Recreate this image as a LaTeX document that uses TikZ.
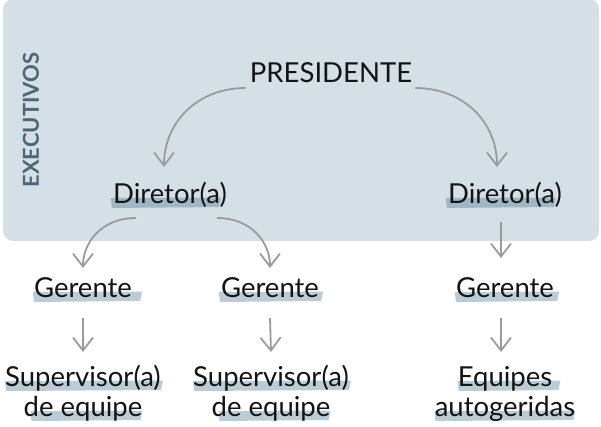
\documentclass[tikz,border=0pt]{standalone}
\usepackage{fontspec}
\setmainfont{Lato}
\usetikzlibrary{arrows.meta}
\pgfdeclarelayer{bg}
\pgfsetlayers{bg,main}
\definecolor{boxc}{HTML}{D4DFE6}
\definecolor{execc}{HTML}{4D6777}
\definecolor{arrc}{HTML}{9B9B9B}
\definecolor{hlin}{HTML}{A0B6C5}
\definecolor{hlout}{HTML}{BCCCD7}
\definecolor{txt}{HTML}{141414}
\tikzset{
  lbl/.style={anchor=base, inner sep=0pt, font=\fontsize{27.5}{31}\selectfont, text=txt},
  arr/.style={draw=arrc, line width=1.8pt, -{Straight Barb[length=13pt,width=20pt,line width=1.8pt]}},
}
\newcommand{\hlband}[4]{%
  \fill[#2] ([shift={({-(#3)},-5)}]#1.base west) -- ([shift={(#4,-5.5)}]#1.base east)
    -- ([shift={({#4-2},4)}]#1.base east) -- ([shift={({1-(#3)},5)}]#1.base west) -- cycle;}
\begin{document}
\begin{tikzpicture}[x=1pt,y=-1pt]
\useasboundingbox (0,0) rectangle (601,426);
\begin{pgfonlayer}{bg}
  \fill[boxc, rounded corners=10pt] (3,-1) rectangle (599,241);
\end{pgfonlayer}
\node[font=\fontsize{22}{25}\selectfont\bfseries, text=execc, rotate=90, inner sep=0pt] (exec) at (31,120) {EXECUTIVOS};
\node[lbl] (pres) at (331,82) {PRESIDENTE};
\node[lbl] (dirL) at (170,203) {Diretor(a)};
\node[lbl] (dirR) at (505,203) {Diretor(a)};
\node[lbl] (ger1) at (83,297) {Gerente};
\node[lbl] (ger2) at (270,297) {Gerente};
\node[lbl] (ger3) at (505,297) {Gerente};
\node[lbl] (sup1a) at (83,386) {Supervisor(a)};
\node[lbl] (sup1b) at (83,416) {de equipe};
\node[lbl] (sup2a) at (271,386) {Supervisor(a)};
\node[lbl] (sup2b) at (271,416) {de equipe};
\node[lbl] (eqa) at (505,386) {Equipes};
\node[lbl] (eqb) at (505,416) {autogeridas};
\begin{pgfonlayer}{bg}
  \hlband{dirL}{hlin}{2}{-6}
  \hlband{dirR}{hlin}{2}{-6}
  \hlband{ger1}{hlout}{1}{10}
  \hlband{ger2}{hlout}{2}{4}
  \hlband{ger3}{hlout}{1}{5}
  \hlband{sup1a}{hlout}{0}{2}
  \hlband{sup1b}{hlout}{-7}{0}
  \hlband{sup2a}{hlout}{0}{2}
  \hlband{sup2b}{hlout}{-7}{0}
  \hlband{eqa}{hlout}{0}{8}
  \hlband{eqb}{hlout}{0}{0}
\end{pgfonlayer}
\draw[arr] ([shift={(-4,6)}]pres.base west) .. controls +(-48,0) and +(0,-45) .. ([shift={(-6,-36)}]dirL.base);
\draw[arr] ([shift={(3,6)}]pres.base east) .. controls +(48,0) and +(0,-45) .. ([shift={(-8,-36)}]dirR.base);
\draw[arr] ([shift={(-34,15)}]dirL.base) .. controls +(-35,0) and +(0,-25) .. ([shift={(0,-29)}]ger1.base);
\draw[arr] ([shift={(47,15)}]dirL.base) .. controls +(35,0) and +(0,-25) .. ([shift={(0,-29)}]ger2.base);
\draw[arr] ([shift={(-4,19)}]dirR.base) -- ([shift={(-4,-39)}]ger3.base);
\draw[arr] ([shift={(0,21)}]ger1.base) -- ([shift={(0,-34)}]sup1a.base);
\draw[arr] ([shift={(0,21)}]ger2.base) -- ([shift={(0,-34)}]sup2a.base);
\draw[arr] ([shift={(-4,21)}]ger3.base) -- ([shift={(-4,-34)}]eqa.base);
\end{tikzpicture}
\end{document}
